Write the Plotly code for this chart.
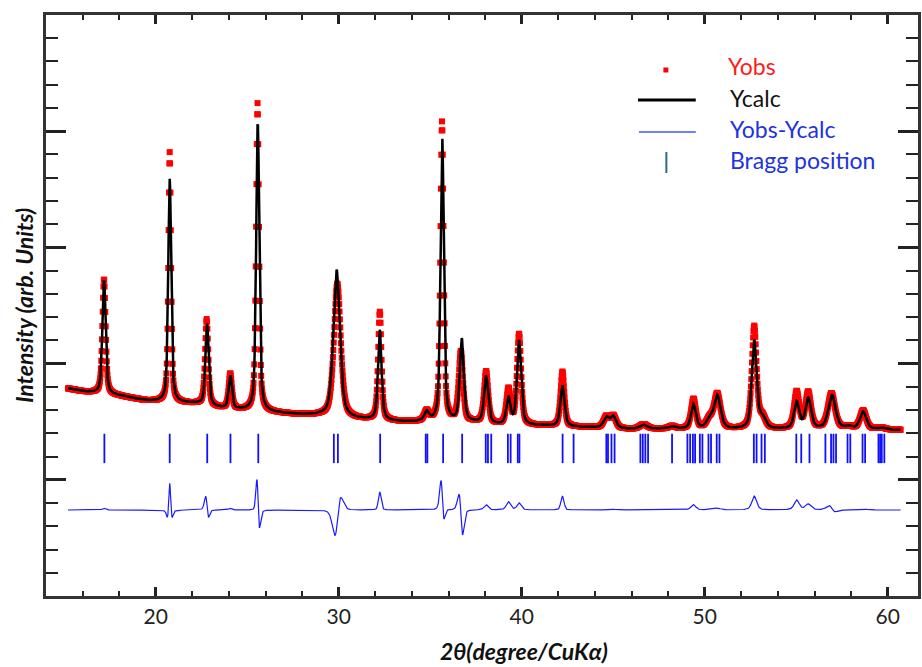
import numpy as np
import plotly.graph_objects as go

# ---------------- data ----------------
# background knots (2theta, intensity)
bg_2theta = [15.2, 16.0, 18.0, 19.5, 21.5, 22.3, 23.5, 24.6, 27.8, 29.0, 31.0,
             33.5, 37.4, 38.8, 41.0, 43.5, 46.0, 48.0, 51.5, 54.0, 58.0, 60.7]
bg_level = [1785, 1760, 1722, 1680, 1660, 1652, 1617, 1600, 1560, 1550, 1520,
            1498, 1492, 1470, 1465, 1452, 1435, 1438, 1434, 1434, 1436, 1428]

# calculated peaks: position, height above background, FWHM
calc_pos = [17.17, 20.76, 22.80, 24.07, 25.57, 29.88, 32.24, 34.80, 35.65, 36.72,
            38.05, 39.27, 39.85, 42.22, 44.62, 45.00, 46.65, 48.21, 49.38, 50.25,
            50.68, 52.70, 53.15, 55.02, 55.65, 56.95, 57.85, 58.65, 59.65]
calc_height = [975, 1920, 700, 285, 2480, 1270, 775, 80, 2450, 710,
               400, 230, 720, 350, 90, 100, 35, 20, 210, 70,
               285, 760, 90, 230, 260, 290, 20, 150, 15]
calc_fwhm = [0.21, 0.19, 0.21, 0.21, 0.20, 0.42, 0.23, 0.30, 0.21, 0.25,
             0.27, 0.27, 0.27, 0.27, 0.35, 0.35, 0.50, 0.40, 0.31, 0.40,
             0.42, 0.31, 0.40, 0.33, 0.36, 0.46, 0.40, 0.40, 0.50]

# observed peaks (same reflections, as read from the red points)
obs_pos = [17.17, 20.76, 22.78, 24.07, 25.56, 29.92, 32.24, 34.80, 35.64, 36.67,
           38.05, 39.27, 39.85, 42.22, 44.62, 45.00, 46.65, 48.21, 49.38, 50.25,
           50.68, 52.70, 53.15, 55.02, 55.65, 56.92, 57.85, 58.65, 59.65]
obs_height = [990, 2150, 740, 300, 2650, 1150, 930, 85, 2580, 600,
              445, 300, 780, 470, 95, 105, 40, 22, 255, 75,
              300, 880, 90, 315, 310, 305, 20, 160, 15]
obs_fwhm = [0.21, 0.17, 0.21, 0.21, 0.19, 0.44, 0.22, 0.30, 0.21, 0.28,
            0.27, 0.27, 0.27, 0.25, 0.35, 0.35, 0.50, 0.40, 0.31, 0.40,
            0.42, 0.31, 0.40, 0.33, 0.36, 0.46, 0.40, 0.40, 0.50]

# Bragg reflection positions
bragg_pos = [17.19, 20.76, 22.81, 24.08, 25.60, 29.73, 29.95, 32.26, 34.75, 34.84,
             35.70, 36.74, 38.03, 38.15, 38.33, 39.24, 39.39, 39.78, 39.87, 42.23,
             42.83, 44.62, 44.71, 44.90, 45.07, 46.48, 46.61, 46.75, 46.90, 48.21,
             49.05, 49.20, 49.35, 49.47, 49.73, 49.87, 50.20, 50.34, 50.65, 50.80,
             52.68, 52.83, 53.10, 53.28, 55.00, 55.27, 55.72, 56.59, 56.90, 57.03,
             57.17, 57.80, 57.95, 58.62, 58.76, 59.49, 59.58, 59.67, 59.81]

two_theta_start, two_theta_end, two_theta_step = 15.2, 60.7, 0.02
diff_offset = 740
bragg_level = 1270
eta = 0.5

# ---------------- profile construction ----------------
tt = np.arange(two_theta_start, two_theta_end + 1e-9, two_theta_step)
bg = np.interp(tt, bg_2theta, bg_level)


def profile(pos, hgt, fw):
    y = np.zeros_like(tt)
    for p, h, w in zip(pos, hgt, fw):
        u = (tt - p) / (w / 2.0)
        y += h * (eta / (1 + u ** 2) + (1 - eta) * np.exp(-np.log(2) * u ** 2))
    return y


ycalc = bg + profile(calc_pos, calc_height, calc_fwhm)
yobs = bg + profile(obs_pos, obs_height, obs_fwhm)
ydiff = yobs - ycalc + diff_offset

# ---------------- figure ----------------
W, H = 922, 667
L, R, T, B = 46, 1, 15, 71
PW, PH = W - L - R, H - T - B


def px(x):
    return (x - L) / PW


def py(y):
    return (H - B - y) / PH


fig = go.Figure()
fig.add_trace(go.Scatter(x=tt, y=yobs, mode="markers",
                         marker=dict(symbol="square", size=6, color="#ff0000", line=dict(width=0)),
                         name="Yobs", showlegend=False))
fig.add_trace(go.Scatter(x=tt, y=ycalc, mode="lines",
                         line=dict(color="#000000", width=2.5), name="Ycalc", showlegend=False))
fig.add_trace(go.Scatter(x=tt, y=ydiff, mode="lines",
                         line=dict(color="#1a1aff", width=1.2), name="Yobs-Ycalc", showlegend=False))
fig.add_trace(go.Scatter(x=bragg_pos, y=[bragg_level] * len(bragg_pos), mode="markers",
                         marker=dict(symbol="line-ns-open", size=21, color="#1010ff",
                                     line=dict(color="#1010ff", width=1.8)),
                         name="Bragg position", showlegend=False))

axis_col = "#333333"
fig.update_xaxes(range=[14.0, 61.65], tickmode="array", tickvals=[20, 30, 40, 50, 60],
                 ticks="inside", ticklen=9, tickwidth=2.5, tickcolor="#222",
                 showline=True, linewidth=2.8, linecolor=axis_col, mirror="ticks",
                 showgrid=False, zeroline=False,
                 tickfont=dict(family="Lato", size=21, color="#222"),
                 minor=dict(tickmode="linear", tick0=0, dtick=2, ticks="inside",
                            ticklen=5, tickwidth=1.5, tickcolor="#222", showgrid=False))
fig.update_yaxes(range=[0, 5000], tickmode="linear", tick0=0, dtick=1000,
                 ticks="inside", ticklen=20, tickwidth=3, tickcolor="#222",
                 showticklabels=False,
                 showline=True, linewidth=2.8, linecolor=axis_col, mirror="ticks",
                 showgrid=False, zeroline=False,
                 minor=dict(tickmode="linear", tick0=0, dtick=200, ticks="inside",
                            ticklen=12, tickwidth=1.5, tickcolor="#222", showgrid=False))

ann = []
shapes = []
# axis titles
ann.append(dict(x=px(526), y=py(651), xref="paper", yref="paper", xanchor="center", yanchor="middle",
                text="<b><i>2θ(degree/CuKα)</i></b>", showarrow=False,
                font=dict(family="Lato", size=23, color="#111")))
ann.append(dict(x=px(24), y=py(306), xref="paper", yref="paper", xanchor="center", yanchor="middle",
                text="<b><i>Intensity (arb. Units)</i></b>", showarrow=False, textangle=-90,
                font=dict(family="Lato", size=23, color="#111")))

# legend (manual)
leg_font = 23
ann.append(dict(x=px(728), y=py(66), xref="paper", yref="paper", xanchor="left", yanchor="middle",
                text="Yobs", showarrow=False, font=dict(family="Lato", size=leg_font, color="#ff1a1a")))
ann.append(dict(x=px(730), y=py(98), xref="paper", yref="paper", xanchor="left", yanchor="middle",
                text="Ycalc", showarrow=False, font=dict(family="Lato", size=leg_font, color="#111")))
ann.append(dict(x=px(730), y=py(129), xref="paper", yref="paper", xanchor="left", yanchor="middle",
                text="Yobs-Ycalc", showarrow=False, font=dict(family="Lato", size=leg_font, color="#2233dd")))
ann.append(dict(x=px(730), y=py(160), xref="paper", yref="paper", xanchor="left", yanchor="middle",
                text="Bragg position", showarrow=False, font=dict(family="Lato", size=leg_font, color="#2233dd")))

shapes.append(dict(type="rect", xref="paper", yref="paper", x0=px(665.5), x1=px(670.5),
                   y0=py(72.5), y1=py(67.5), fillcolor="#ff0000", line=dict(width=0)))
shapes.append(dict(type="line", xref="paper", yref="paper", x0=px(640), x1=px(698),
                   y0=py(100), y1=py(100), line=dict(color="#000", width=3)))
shapes.append(dict(type="line", xref="paper", yref="paper", x0=px(641), x1=px(698),
                   y0=py(132), y1=py(132), line=dict(color="#4455ee", width=1.5)))
shapes.append(dict(type="line", xref="paper", yref="paper", x0=px(668.5), x1=px(668.5),
                   y0=py(152), y1=py(173), line=dict(color="#2f6a80", width=2)))

fig.update_layout(width=W, height=H, margin=dict(l=L, r=R, t=T, b=B),
                  paper_bgcolor="white", plot_bgcolor="white", showlegend=False,
                  annotations=ann, shapes=shapes)

fig.write_html("out.html", config={"displayModeBar": False},
               post_script="document.body.style.margin='0';document.body.style.overflow='hidden';")
